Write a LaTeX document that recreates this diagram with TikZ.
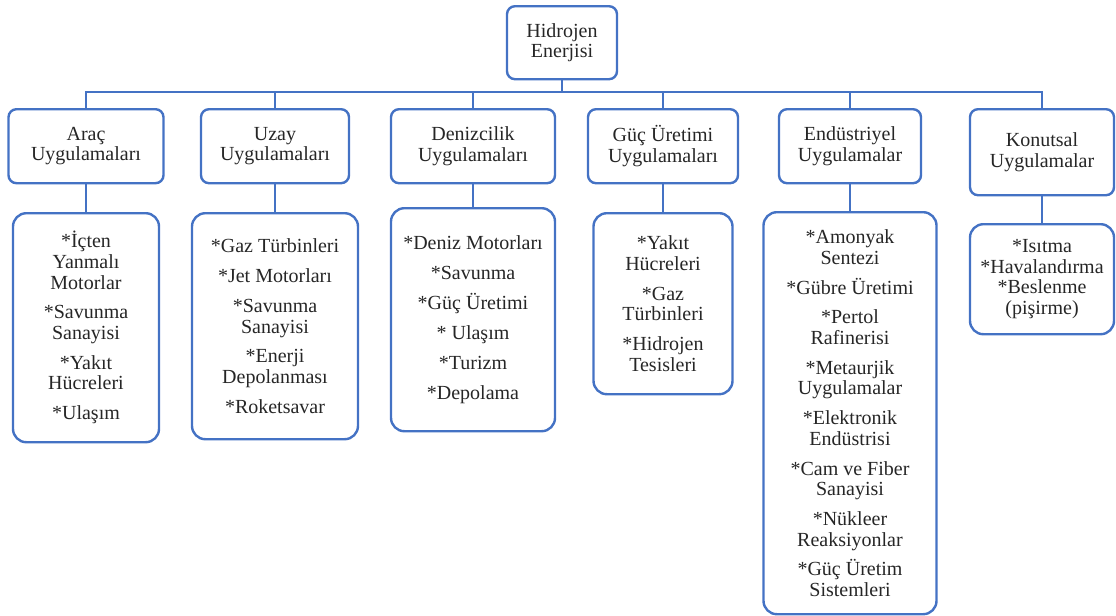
\documentclass[tikz,border=0pt]{standalone}
\usepackage{fontspec}
\setmainfont{Liberation Serif}
\definecolor{boxblue}{HTML}{4472C4}
\begin{document}
\begin{tikzpicture}[x=0.75pt,y=-0.75pt,
	every node/.style={font=\fontsize{15}{15.4}\selectfont,align=center,text=black!85},
	headbox/.style={draw=boxblue,line width=1.8pt,rounded corners=6pt,inner sep=0pt,anchor=north},
	listbox/.style={draw=boxblue,line width=1.8pt,rounded corners=10pt,inner sep=0pt,anchor=north},
	link/.style={draw=boxblue,line width=1.8pt,line join=miter}
	]
	\useasboundingbox (0,0) rectangle (1116,615);
	\node[headbox,minimum width=82.5pt,minimum height=54.75pt] (top) at (562,5) {Hidrojen\\Enerjisi};
	\node[headbox,minimum width=116.25pt,minimum height=55.5pt] (arac) at (86,108) {Araç\\Uygulamaları};
	\node[headbox,minimum width=111pt,minimum height=55.5pt] (uzay) at (275,108) {Uzay\\Uygulamaları};
	\node[headbox,minimum width=123pt,minimum height=55.5pt] (deniz) at (473,108) {Denizcilik\\Uygulamaları};
	\node[headbox,minimum width=112.5pt,minimum height=55.5pt] (guc) at (663,108) {Güç Üretimi\\Uygulamaları};
	\node[headbox,minimum width=106.5pt,minimum height=55.5pt] (endus) at (850,108) {Endüstriyel\\Uygulamalar};
	\node[headbox,minimum width=108pt,minimum height=64.5pt] (konut) at (1042,108) {Konutsal\\Uygulamalar};
	\node[listbox,minimum width=109.5pt,minimum height=171.75pt] (arac list) at (86,212)
		{*İçten\\Yanmalı\\Motorlar\\[7pt]*Savunma\\Sanayisi\\[7pt]*Yakıt\\Hücreleri\\[7pt]*Ulaşım};
	\node[listbox,minimum width=124.5pt,minimum height=169.5pt] (uzay list) at (275,212)
		{*Gaz Türbinleri\\[7pt]*Jet Motorları\\[7pt]*Savunma\\Sanayisi\\[7pt]*Enerji\\Depolanması\\[7pt]*Roketsavar};
	\node[listbox,minimum width=123pt,minimum height=167.25pt] (deniz list) at (473,207)
		{*Deniz Motorları\\[7pt]*Savunma\\[7pt]*Güç Üretimi\\[7pt]* Ulaşım\\[7pt]*Turizm\\[7pt]*Depolama};
	\node[listbox,minimum width=104.25pt,minimum height=135.75pt] (guc list) at (663,212)
		{*Yakıt\\Hücreleri\\[7pt]*Gaz\\Türbinleri\\[7pt]*Hidrojen\\Tesisleri};
	\node[listbox,minimum width=129.75pt,minimum height=301.5pt] (endus list) at (850,211)
		{*Amonyak\\Sentezi\\[7pt]*Gübre Üretimi\\[7pt]*Pertol\\Rafinerisi\\[7pt]*Metaurjik\\Uygulamalar\\[7pt]*Elektronik\\Endüstrisi\\[7pt]*Cam ve Fiber\\Sanayisi\\[7pt]*Nükleer\\Reaksiyonlar\\[7pt]*Güç Üretim\\Sistemleri};
	\node[listbox,minimum width=108pt,minimum height=82.5pt] (konut list) at (1042,223)
		{*Isıtma\\{}*Havalandırma\\{}*Beslenme\\(pişirme)};
	\coordinate (bus) at (562,92);
	\draw[link] (top.south) -- (top.south |- bus);
	\draw[link] (arac.north) -- (arac.north |- bus) -- (konut.north |- bus) -- (konut.north);
	\foreach \n in {uzay,deniz,guc,endus}{
		\draw[link] (\n.north) -- (\n.north |- bus);
	}
	\foreach \n in {arac,uzay,deniz,guc,endus,konut}{
		\draw[link] (\n.south) -- (\n\space list.north);
	}
\end{tikzpicture}
\end{document}
